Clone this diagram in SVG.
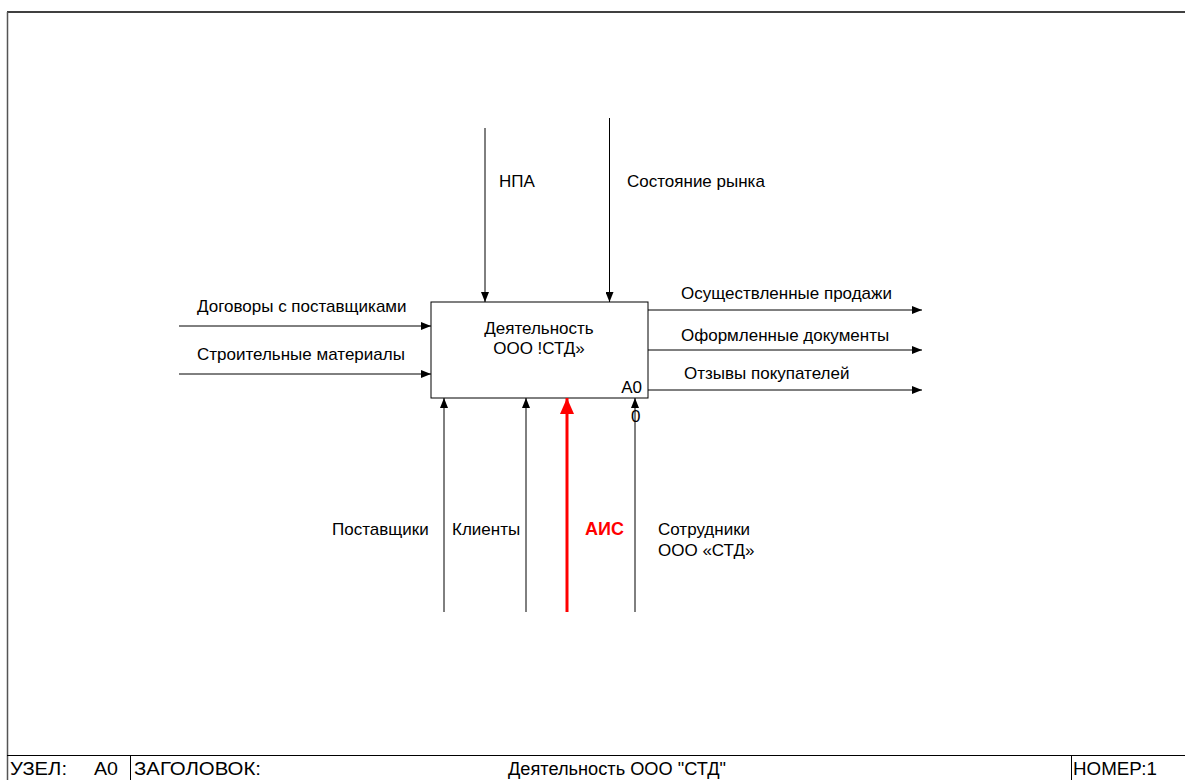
<svg xmlns="http://www.w3.org/2000/svg" width="1185" height="780" viewBox="0 0 1185 780">
  <style>
    text { font-family: "Liberation Sans", Arial, sans-serif; fill: #000; }
    .lbl { font-size: 17px; }
    .frm { font-size: 18px; }
    .line { stroke: #000; stroke-width: 1; fill: none; }
    .red { stroke: #ff0000; stroke-width: 3; fill: none; }
  </style>
  <defs>
    <marker id="arr" markerWidth="10" markerHeight="8" refX="10" refY="4" orient="auto" markerUnits="userSpaceOnUse">
      <path d="M0,0 L10,4 L0,8 Z" fill="#000"/>
    </marker>
    <marker id="arrRed" markerWidth="16" markerHeight="14" refX="16" refY="7" orient="auto" markerUnits="userSpaceOnUse">
      <path d="M0,0 L16,7 L0,14 Z" fill="#ff0000"/>
    </marker>
  </defs>
  <rect width="1185" height="780" fill="#fff"/>

  <!-- sheet frame -->
  <g id="frame">
    <line x1="7" y1="12" x2="1185" y2="12" stroke="#000" stroke-width="1.5"/>
    <line x1="7.5" y1="12" x2="7.5" y2="780" stroke="#555" stroke-width="1.5"/>
    <line x1="7" y1="755.5" x2="1185" y2="755.5" stroke="#000" stroke-width="1"/>
    <line x1="130.5" y1="755" x2="130.5" y2="780" stroke="#000" stroke-width="1"/>
    <line x1="1071.5" y1="755" x2="1071.5" y2="780" stroke="#000" stroke-width="1"/>
    <text class="frm" x="10" y="775" textLength="57" lengthAdjust="spacingAndGlyphs">УЗЕЛ:</text>
    <text class="frm" x="94" y="775" textLength="24" lengthAdjust="spacingAndGlyphs">A0</text>
    <text class="frm" x="134" y="775" textLength="127" lengthAdjust="spacingAndGlyphs">ЗАГОЛОВОК:</text>
    <text class="frm" x="508" y="775" textLength="218" lengthAdjust="spacingAndGlyphs">Деятельность ООО "СТД"</text>
    <text class="frm" x="1073" y="775" textLength="84" lengthAdjust="spacingAndGlyphs">НОМЕР:1</text>
  </g>

  <!-- activity box -->
  <g id="node-A0">
    <rect x="431" y="302" width="217" height="96" fill="#fff" stroke="#000" stroke-width="1"/>
    <text class="lbl" x="539" y="334" text-anchor="middle">Деятельность</text>
    <text class="lbl" x="539" y="354" text-anchor="middle">ООО !СТД»</text>
    <text class="lbl" x="642" y="393" text-anchor="end">A0</text>
  </g>

  <!-- connectors -->
  <g id="connectors">
    <!-- controls -->
    <line class="line" x1="485" y1="128" x2="485" y2="302" marker-end="url(#arr)"/>
    <line class="line" x1="609.5" y1="118" x2="609.5" y2="302" marker-end="url(#arr)"/>
    <!-- inputs -->
    <line class="line" x1="179" y1="326" x2="431" y2="326" marker-end="url(#arr)"/>
    <line class="line" x1="179" y1="374" x2="431" y2="374" marker-end="url(#arr)"/>
    <!-- outputs -->
    <line class="line" x1="648" y1="310" x2="922" y2="310" marker-end="url(#arr)"/>
    <line class="line" x1="648" y1="350" x2="922" y2="350" marker-end="url(#arr)"/>
    <line class="line" x1="648" y1="390" x2="922" y2="390" marker-end="url(#arr)"/>
    <!-- mechanisms -->
    <line class="line" x1="444" y1="612" x2="444" y2="398" marker-end="url(#arr)"/>
    <line class="line" x1="526" y1="612" x2="526" y2="398" marker-end="url(#arr)"/>
    <line class="red" x1="567" y1="612" x2="567" y2="398" marker-end="url(#arrRed)"/>
    <line class="line" x1="635" y1="612" x2="635" y2="398" marker-end="url(#arr)"/>
  </g>

  <!-- connector labels -->
  <g id="labels">
    <text class="lbl" x="499" y="187">НПА</text>
    <text class="lbl" x="627" y="187">Состояние рынка</text>
    <text class="lbl" x="197" y="312">Договоры с поставщиками</text>
    <text class="lbl" x="197" y="360">Строительные материалы</text>
    <text class="lbl" x="681" y="299">Осуществленные продажи</text>
    <text class="lbl" x="681" y="341">Оформленные документы</text>
    <text class="lbl" x="684" y="379">Отзывы покупателей</text>
    <text class="lbl" x="332" y="535">Поставщики</text>
    <text class="lbl" x="452" y="535">Клиенты</text>
    <text class="lbl" x="585" y="535" font-weight="bold" style="fill:#ff0000;font-size:18px">АИС</text>
    <text class="lbl" x="658" y="535">Сотрудники</text>
    <text class="lbl" x="658" y="556">ООО «СТД»</text>
    <text class="lbl" x="631" y="422">0</text>
  </g>
</svg>
